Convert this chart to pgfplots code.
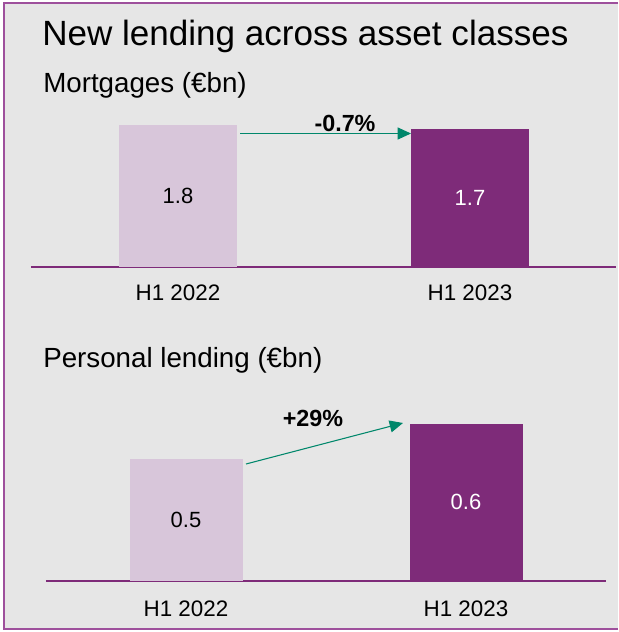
\documentclass[border=0pt]{standalone}
\usepackage{fontspec}
\setmainfont{Liberation Sans}
\usepackage{pgfplots}
\pgfplotsset{compat=1.18}
\usetikzlibrary{arrows.meta}
\definecolor{panelbg}{HTML}{E6E6E6}
\definecolor{frame}{HTML}{9E509C}
\definecolor{lilac}{HTML}{D8C6DA}
\definecolor{plum}{HTML}{7E2B79}
\definecolor{arrowteal}{HTML}{00876B}

\pgfplotsset{
  panel/.style={
    scale only axis, enlargelimits=false, clip=false,
    axis x line*=bottom, axis y line=none,
    x axis line style={draw=plum, line width=0.9pt, -},
    xtick={0,1}, xticklabels={H1 2022,H1 2023},
    xtick style={draw=none}, ytick=\empty, ymin=0,
    xticklabel style={font=\fontsize{16.8}{19}\selectfont, anchor=base, inner sep=0pt},
  },
  lendbar/.style={ybar, bar shift=0pt, draw=none, fill=#1},
  inbar/.style={draw=none, mark=none, nodes near coords, point meta=explicit symbolic,
    every node near coord/.append style={anchor=center, text=#1, inner sep=0pt,
      font=\fontsize{16.5}{19}\selectfont}},
}

\begin{document}
\begin{tikzpicture}[x=0.75pt, y=0.75pt]
% page: 618 x 632 px, 1 px = 0.75pt, y counted from the bottom
\path (0,0) rectangle (618,632);
\fill[panelbg] (4,3) rectangle (618,629);
\draw[frame, line width=0.8pt] (618,629) -- (4,629) -- (4,3) -- (618,3);

\node[anchor=base west, inner sep=0pt, font=\fontsize{26.3}{31}\selectfont] at (42,586) {New lending across asset classes};
\node[anchor=base west, inner sep=0pt, font=\fontsize{20.8}{24}\selectfont] at (43,539) {Mortgages (€bn)};
\node[anchor=base west, inner sep=0pt, font=\fontsize{20.8}{24}\selectfont] at (43,264) {Personal lending (€bn)};

% Mortgages
\begin{axis}[panel, at={(23.25pt,273.75pt)}, anchor=south west,
  width=438.75pt, height=106.5pt,
  xmin=-0.5034, xmax=1.5, ymax=1.8,
  xticklabel style={yshift=-25.5pt}]
\addplot[lendbar=lilac, bar width=88.5pt] coordinates {(0,1.80)};
\addplot[lendbar=plum, bar width=88.5pt] coordinates {(1,1.75)};
\addplot[inbar=black] table[row sep=\\, x=x, y expr=\thisrow{y}/2, meta=lab] {x y lab\\ 0 1.80 1.8\\};
\addplot[inbar=white] table[row sep=\\, x=x, y expr=\thisrow{y}/2, meta=lab] {x y lab\\ 1 1.75 1.7\\};
\end{axis}

% Personal lending
\begin{axis}[panel, at={(34.5pt,38.25pt)}, anchor=south west,
  width=420pt, height=118.05pt,
  xmin=-0.5, xmax=1.5, ymax=0.645,
  xticklabel style={yshift=-27pt}]
\addplot[lendbar=lilac, bar width=84.75pt] coordinates {(0,0.5)};
\addplot[lendbar=plum, bar width=84.75pt] coordinates {(1,0.645)};
\addplot[inbar=black] table[row sep=\\, x=x, y expr=\thisrow{y}/2, meta=lab] {x y lab\\ 0 0.5 0.5\\};
\addplot[inbar=white] table[row sep=\\, x=x, y expr=\thisrow{y}/2, meta=lab] {x y lab\\ 1 0.645 0.6\\};
\end{axis}

% change arrows
\draw[arrowteal, line width=0.8pt, -{Triangle[length=10pt, width=9pt]}] (240,498.5) -- (411,498.5);
\node[font=\bfseries\fontsize{17.5}{20}\selectfont, inner sep=0pt] at (345,509) {-0.7\%};
\draw[arrowteal, line width=0.8pt, -{Triangle[length=10pt, width=9pt]}] (246,168) -- (403,209);
\node[font=\bfseries\fontsize{17.5}{20}\selectfont, inner sep=0pt] at (313,214) {+29\%};
\end{tikzpicture}
\end{document}
